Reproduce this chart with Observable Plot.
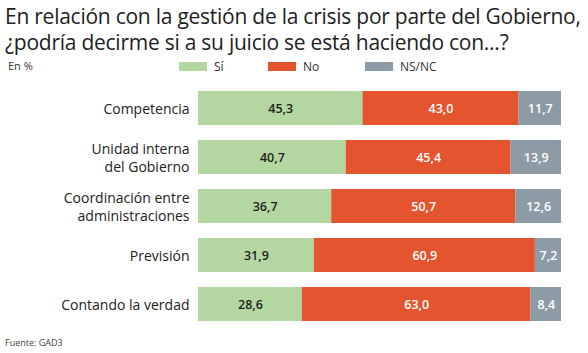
<!DOCTYPE html>
<html>
<head>
<meta charset="utf-8">
<script src="https://cdn.jsdelivr.net/npm/d3@7"></script>
<script src="https://cdn.jsdelivr.net/npm/@observablehq/plot@0.6"></script>
<style>
  html, body { margin: 0; padding: 0; background: #fff; }
  #wrap { position: relative; width: 588px; height: 353px; overflow: hidden; font-family: "Open Sans", "Noto Sans", sans-serif; color: #222; }
  #title { position: absolute; left: 5px; top: 3px; font-size: 21px; line-height: 26px; white-space: nowrap; color: #1e1e1e; letter-spacing: -0.25px; }
  #unit { position: absolute; left: 8px; top: 58px; font-size: 11px; color: #333; }
  #legend { position: absolute; left: 0; top: 58px; font-size: 12px; color: #333; }
  .lg { position: absolute; top: 0; white-space: nowrap; }
  .sw { display: inline-block; width: 28px; height: 9px; vertical-align: 0px; margin-right: 7px; }
  #chart { position: absolute; left: 0; top: 0; }
  #source { position: absolute; left: 5px; top: 336px; font-size: 9px; color: #444; }
</style>
</head>
<body>
<div id="wrap">
  <div id="chart"></div>
  <div id="title">En relación con la gestión de la crisis por parte del Gobierno,<br>¿podría decirme si a su juicio se está haciendo con...?</div>
  <div id="unit">En %</div>
  <div id="legend"></div>
  <div id="source">Fuente: GAD3</div>
</div>
<script>
const categories = ["Competencia", "Unidad interna\ndel Gobierno", "Coordinación entre\nadministraciones", "Previsión", "Contando la verdad"];
const answers = ["Sí", "No", "NS/NC"];
const si = [45.3, 40.7, 36.7, 31.9, 28.6];
const no = [43.0, 45.4, 50.7, 60.9, 63.0];
const nsnc = [11.7, 13.9, 12.6, 7.2, 8.4];
const colors = ["#b4d6a0", "#e4542e", "#8c9ba5"];
const textColors = ["#1e1e1e", "#ffffff", "#ffffff"];

const series = [si, no, nsnc];
const data = [];
categories.forEach((c, i) => {
  answers.forEach((a, j) => {
    data.push({cat: c, answer: a, value: series[j][i], tc: textColors[j]});
  });
});
const fmt = v => d3.format(".1f")(v).replace(".", ",");

const chart = Plot.plot({
  width: 588,
  height: 353,
  marginLeft: 198,
  marginRight: 27,
  marginTop: 73,
  marginBottom: 15,
  style: {fontFamily: "'Open Sans', 'Noto Sans', sans-serif", background: "transparent"},
  x: {domain: [0, 100], axis: null},
  y: {domain: categories, padding: 0.31, label: null},
  color: {domain: answers, range: colors},
  marks: [
    Plot.barX(data, Plot.stackX({x: "value", y: "cat", fill: "answer", order: answers})),
    Plot.text(data, Plot.stackX({x: "value", y: "cat", z: "answer", order: answers, text: d => fmt(d.value), fill: "tc", fontSize: 12.5, fontWeight: 600})),
    Plot.axisY({tickSize: 0, tickPadding: 9, fontSize: 14, lineHeight: 1.25, label: null, fill: "#222"})
  ]
});
document.getElementById("chart").appendChild(chart);

const legendItems = [
  {label: "Sí", x: 179},
  {label: "No", x: 268},
  {label: "NS/NC", x: 365}
];
const leg = document.getElementById("legend");
legendItems.forEach((it, i) => {
  const d = document.createElement("div");
  d.className = "lg";
  d.style.left = it.x + "px";
  d.innerHTML = `<span class="sw" style="background:${colors[i]}"></span>${it.label}`;
  leg.appendChild(d);
});
</script>
</body>
</html>
